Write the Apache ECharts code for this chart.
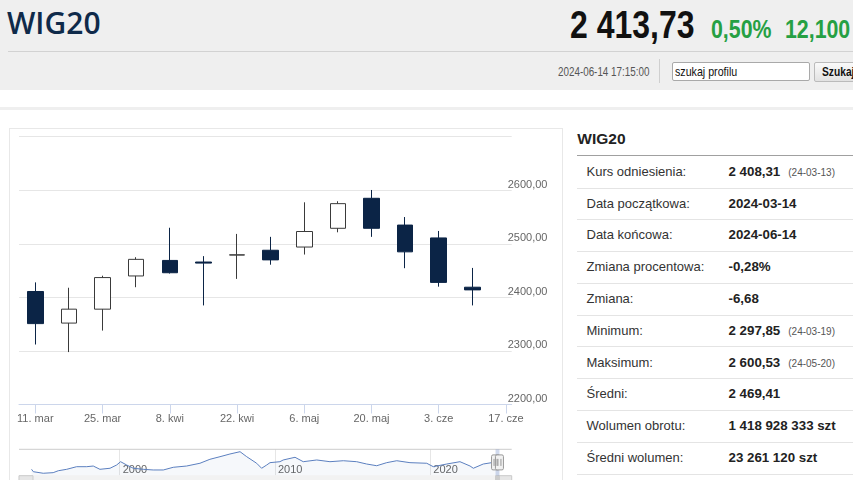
<!DOCTYPE html>
<html><head><meta charset="utf-8">
<script src="https://cdn.jsdelivr.net/npm/echarts@6/dist/echarts.min.js"></script>
<style>
html,body{margin:0;padding:0;background:#fff;overflow:hidden;width:853px;height:480px;font-family:"Liberation Sans",Arial,sans-serif;}
.a{position:absolute;white-space:nowrap;line-height:1;}
.n{transform-origin:0 50%;transform:scaleX(0.82);}
#hdr{position:absolute;left:0;top:0;width:853px;height:90px;background:#efefef;}
#tbl .row{position:absolute;left:577px;width:290px;border-bottom:1px solid #e4e4e4;}
#tbl .lab{position:absolute;left:9.5px;top:0;font-size:13px;color:#333;}
#tbl .val{position:absolute;left:151.5px;top:0;font-size:13.3px;font-weight:bold;color:#222;}
#tbl .note{font-size:10px;font-weight:normal;color:#555;margin-left:8px;}
</style></head>
<body>
<div id="hdr">
  <div class="a" style="left:7px;top:7.5px;font-size:30px;font-family:'Open Sans','Liberation Sans',sans-serif;font-weight:600;color:#0f2a4a;">WIG20</div>
  <div class="a n" style="left:570px;top:5px;font-size:39px;font-weight:bold;color:#111;">2 413,73</div>
  <div class="a n" style="left:711px;top:16px;font-size:26px;font-weight:bold;color:#26a043;">0,50%</div>
  <div class="a n" style="left:785px;top:16px;font-size:26px;font-weight:bold;color:#26a043;">12,100</div>
  <div style="position:absolute;left:8px;top:51px;width:845px;height:1px;background:#d2d2d2;"></div>
  <div class="a n" style="left:558px;top:65.8px;font-size:12px;color:#555;">2024-06-14 17:15:00</div>
  <div style="position:absolute;left:659px;top:59px;width:1px;height:24px;background:#cfcfcf;"></div>
  <div style="position:absolute;left:671.5px;top:61.5px;width:136px;height:17px;border:1px solid #a9a9a9;border-radius:2px;background:#fff;">
    <div class="a n" style="left:2.5px;top:2.5px;font-size:13px;color:#111;">szukaj profilu</div>
  </div>
  <div style="position:absolute;left:814px;top:61.5px;width:60px;height:18px;border:1px solid #bbb;border-radius:2px;background:linear-gradient(#fafafa,#e2e2e2);">
    <div class="a n" style="left:7px;top:3px;font-size:12.5px;font-weight:bold;color:#111;">Szukaj</div>
  </div>
</div>
<div style="position:absolute;left:0;top:107px;width:853px;height:3px;background:#efefef;"></div>
<div style="position:absolute;left:9px;top:128px;width:552px;height:400px;border:1px solid #e8e8e8;"></div>
<div id="chart" style="position:absolute;left:11px;top:129px;width:550px;height:351px;"></div>

<div id="tbl">
  <div class="a" style="left:577.3px;top:131.2px;font-size:15.5px;font-weight:bold;color:#222;">WIG20</div>
  <div style="position:absolute;left:577px;top:154.5px;width:290px;height:1px;background:#a0a0a0;"></div>
</div>

<script>
// ---- main candlestick data (weekly) ----
const weeks  = ['2024-03-11','2024-03-18','2024-03-25','2024-04-01','2024-04-08','2024-04-15','2024-04-22',
                '2024-04-29','2024-05-06','2024-05-13','2024-05-20','2024-05-27','2024-06-03','2024-06-10'];
const openV  = [2411, 2352, 2378, 2440, 2469, 2466, 2479,   2488, 2494, 2529, 2585,    2535, 2511, 2419];
const closeV = [2351, 2378, 2437, 2471, 2446, 2464, 2479.5, 2470, 2523, 2575, 2529,    2485, 2428, 2414];
const lowV   = [2312, 2297.85, 2338, 2419, 2444.5, 2385, 2434.5, 2461, 2480, 2521.5, 2513, 2454.5, 2420, 2385];
const highV  = [2428, 2418, 2440.5, 2475, 2530, 2477, 2518.5, 2513, 2577.5, 2579.5, 2600.53, 2550, 2524, 2455];
// ---- axis ticks ----
const tickDates = ['2024-03-11','2024-03-25','2024-04-08','2024-04-22','2024-05-06','2024-05-20','2024-06-03','2024-06-17'];
const monthsPl  = ['sty','lut','mar','kwi','maj','cze','lip','sie','wrz','paź','lis','gru'];
const yMin = 2200, yMax = 2700, yStep = 100;
// ---- navigator (long history) ----
const navYears  = [1994.33,1994.44,1995.08,1995.72,1996.05,1996.59,1997.23,1997.88,1998.30,1998.73,1999.38,1999.81,2000.06,2000.45,2000.88,
                   2001.52,2002.16,2002.81,2003.45,2004.31,2005.17,2005.81,2006.46,2007.10,2007.75,2008.18,2008.82,2009.14,2009.47,2009.68,
                   2010.32,2010.53,2011.29,2011.82,2012.69,2013.54,2014.40,2015.26,2015.90,2016.55,2017.19,2017.84,2018.69,2019.77,2020.19,
                   2021.06,2021.91,2022.56,2022.77,2023.41,2023.95,2024.45];
const navValues = [1540,1220,1010,1090,1350,1540,1890,1890,1980,1540,1680,2120,2560,2120,1680,
                   1540,1450,1450,1810,1980,2350,2880,3230,3590,3900,3230,2350,1680,2120,2430,
                   2560,2790,3150,2560,2790,2560,2690,2560,2250,2020,2430,2690,2430,2350,1890,
                   2250,2560,1980,1680,2250,2430,2414];
const navTicks = [2000, 2010, 2020];
const rangeStart = '2024-03-14', rangeEnd = '2024-06-14';
// ---- side table ----
const statLabels = ['Kurs odniesienia:','Data początkowa:','Data końcowa:','Zmiana procentowa:','Zmiana:','Minimum:','Maksimum:','Średni:','Wolumen obrotu:','Średni wolumen:'];
const statValues = ['2 408,31','2024-03-14','2024-06-14','-0,28%','-6,68','2 297,85','2 600,53','2 469,41','1 418 928 333 szt','23 261 120 szt'];
const statNotes  = ['(24-03-13)','','','','','(24-03-19)','(24-05-20)','','',''];

// build table
(function(){
  const tbl = document.getElementById('tbl');
  let top = 155.5;
  statLabels.forEach((l,i)=>{
    const h = i===0 ? 32 : 30.8;
    const r = document.createElement('div');
    r.className='row'; r.style.top = top+'px'; r.style.height = h+'px';
    const lab = document.createElement('div'); lab.className='lab'; lab.textContent=l;
    lab.style.lineHeight = h+'px';
    const val = document.createElement('div'); val.className='val';
    val.style.lineHeight = h+'px';
    val.textContent = statValues[i];
    if (statNotes[i]) { const s=document.createElement('span'); s.className='note'; s.textContent=statNotes[i]; val.appendChild(s); }
    r.appendChild(lab); r.appendChild(val); tbl.appendChild(r);
    top += h + 1;
  });
})();

function tOf(s){ const p=s.split('-'); return Date.UTC(+p[0], +p[1]-1, +p[2]); }
function yearOf(s){ const y=+s.split('-')[0]; const t=tOf(s), a=Date.UTC(y,0,1), b=Date.UTC(y+1,0,1); return y+(t-a)/(b-a); }
const WEEK = 7*86400000;
const t0 = tOf(weeks[0]);
const wk = (s)=> Math.round((tOf(s)-t0)/WEEK*1000)/1000;   // week index of a date
const tickPos = tickDates.map(wk);
const tickText = {};
tickDates.forEach(s=>{ const p=s.split('-'); tickText[wk(s)] = (+p[2])+'. '+monthsPl[+p[1]-1]; });

const MAIN = {left:8, top:7.7, width:492.7, height:267.8};
const NAV  = {left:8, top:320.3, width:492.7, height:26.2};
const SB_TOP = 346.7;

const chart = echarts.init(document.getElementById('chart'), null, {renderer:'canvas'});
const candleData = weeks.map((d,i)=>[wk(d), openV[i], closeV[i], lowV[i], highV[i]]);
const navData = navYears.map((y,i)=>[y, navValues[i]]);

chart.setOption({
  backgroundColor:'transparent',
  animation:false,
  grid:[
    Object.assign({outerBoundsMode:'none', containLabel:false}, MAIN),
    Object.assign({outerBoundsMode:'none', containLabel:false}, NAV)
  ],
  xAxis:[
    {type:'value', gridIndex:0, min:-0.485, max:14.17,
     axisLine:{show:true, onZero:false, lineStyle:{color:'#ccd6eb', width:1}},
     axisTick:{show:true, customValues:tickPos, length:9, lineStyle:{color:'#ccd6eb'}},
     axisLabel:{customValues:tickPos, color:'#666', fontSize:11, lineHeight:11, margin:9, hideOverlap:false,
       showMinLabel:true, showMaxLabel:true,
       fontFamily:'Liberation Sans, Arial, sans-serif',
       formatter:(v)=> tickText[Math.round(v*1000)/1000] || ''},
     splitLine:{show:false}, minorTick:{show:false}},
    {type:'value', gridIndex:1, min:1993.52, max:2025.24,
     axisLine:{show:false, onZero:false},
     axisTick:{show:false, customValues:navTicks},
     axisLabel:{customValues:navTicks, inside:true, margin:0, align:'left', verticalAlign:'bottom', lineHeight:11,
       padding:[0,0,0,3], color:'#666', fontSize:11, fontFamily:'Liberation Sans, Arial, sans-serif',
       formatter:(v)=>String(Math.round(v))},
     splitLine:{show:true, lineStyle:{color:'#e6e6e6', width:1}}}
  ],
  yAxis:[
    {type:'value', gridIndex:0, position:'right', min:yMin, max:yMax, interval:yStep,
     axisLine:{show:false}, axisTick:{show:false},
     axisLabel:{showMaxLabel:false, color:'#666', fontSize:11, lineHeight:11, margin:-4, verticalAlign:'bottom',
       fontFamily:'Liberation Sans, Arial, sans-serif',
       formatter:(v)=>v.toFixed(2).replace('.',',')},
     splitLine:{show:true, lineStyle:{color:'#e6e6e6', width:1}}},
    {type:'value', gridIndex:1, min:710, max:4220, show:false, splitLine:{show:false}}
  ],
  series:[
    {type:'candlestick', xAxisIndex:0, yAxisIndex:0, data:candleData, barWidth:16,
     itemStyle:{color:'#ffffff', color0:'#0b2446', borderColor:'#3a3a3a', borderColor0:'#0b2446', borderWidth:1}},
    {type:'line', xAxisIndex:1, yAxisIndex:1, data:navData, showSymbol:false, symbol:'none', silent:true,
     lineStyle:{color:'#5b7fbf', width:1}, areaStyle:{color:'rgba(51,92,173,0.06)'}}
  ]
});

// navigator decorations (outline, selected-range mask, handles, scrollbar)
const xs = chart.convertToPixel({xAxisIndex:1}, yearOf(rangeStart));
const xe = chart.convertToPixel({xAxisIndex:1}, yearOf(rangeEnd));
const R = NAV.left + NAV.width;
const hy = NAV.top + NAV.height/2 - 7.5;
function handle(x){
  return [
    {type:'rect', z:20, shape:{x:x-4, y:hy, width:8, height:15, r:1.5}, style:{fill:'#f2f2f2', stroke:'#999999', lineWidth:1}},
    {type:'line', z:21, shape:{x1:x-1.5, y1:hy+4, x2:x-1.5, y2:hy+11}, style:{stroke:'#999999', lineWidth:1}},
    {type:'line', z:21, shape:{x1:x+1.5, y1:hy+4, x2:x+1.5, y2:hy+11}, style:{stroke:'#999999', lineWidth:1}}
  ];
}
chart.setOption({graphic:[
  {type:'line', z:15, shape:{x1:NAV.left, y1:NAV.top, x2:R, y2:NAV.top}, style:{stroke:'#cccccc', lineWidth:1}},
  {type:'rect', z:15, shape:{x:NAV.left, y:SB_TOP, width:NAV.width, height:14}, style:{fill:'#f2f2f2', stroke:'#f2f2f2'}},
  {type:'rect', z:16, shape:{x:NAV.left, y:SB_TOP, width:14, height:14}, style:{fill:'#e6e6e6', stroke:'#cccccc'}},
  {type:'rect', z:16, shape:{x:R-14, y:SB_TOP, width:14, height:14}, style:{fill:'#e6e6e6', stroke:'#cccccc'}},
  {type:'rect', z:17, shape:{x:xs, y:SB_TOP, width:Math.max(2,xe-xs), height:14}, style:{fill:'#cccccc', stroke:'#cccccc'}},
  {type:'rect', z:18, shape:{x:xs, y:NAV.top, width:Math.max(2,xe-xs), height:NAV.height}, style:{fill:'rgba(102,133,194,0.3)'}}
].concat(handle(xs), handle(xe))});
</script>
</body></html>
